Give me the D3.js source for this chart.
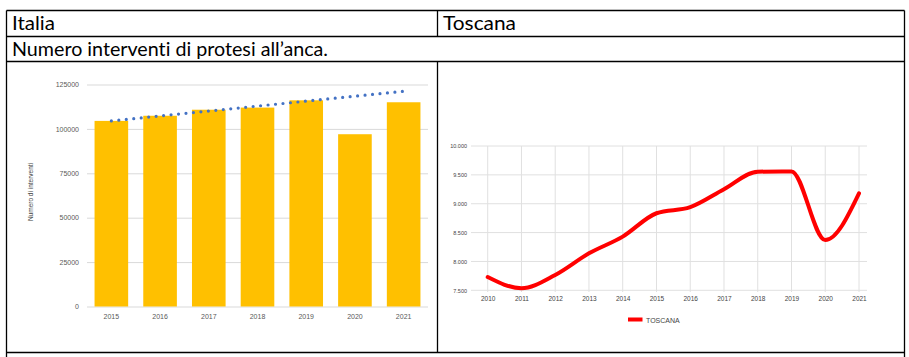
<!DOCTYPE html>
<html><head><meta charset="utf-8">
<script src="https://cdn.jsdelivr.net/npm/d3@7/dist/d3.min.js"></script>
<style>
html,body{margin:0;padding:0;background:#fff;}
svg{display:block;}
text{font-variant-ligatures:none;font-feature-settings:"liga" 0;}
</style></head>
<body>
<svg id="c" width="909" height="357"></svg>
<script>
// ---- data ----
const headerLeft = "Italia";
const headerRight = "Toscana";
const subtitle = "Numero interventi di protesi all\u2019anca.";

const italiaYears = ["2015","2016","2017","2018","2019","2020","2021"];
const italiaValues = [104500, 107400, 110800, 112000, 116100, 97000, 115000];
const italiaTicks = [0, 25000, 50000, 75000, 100000, 125000];
const italiaTrend = [104500, 121200]; // trend line at first and last year
const italiaYTitle = "Numero di interventi";

const toscanaYears = ["2010","2011","2012","2013","2014","2015","2016","2017","2018","2019","2020","2021"];
const toscanaValues = [7730, 7535, 7765, 8140, 8430, 8835, 8940, 9250, 9555, 9560, 8370, 9180];
const toscanaTicks = [7500, 8000, 8500, 9000, 9500, 10000];
const toscanaLegend = "TOSCANA";

const svg = d3.select("#c");

// ---- table frame ----
const T = {l:6.5, r:904.5, t:10.5, r1:36.5, r2:61.5, b:352.5, mid:437.5};
const frame = svg.append("g").attr("stroke","#000").attr("stroke-width",1.3).attr("fill","none");
frame.append("line").attr("x1",T.l).attr("x2",T.r).attr("y1",T.t).attr("y2",T.t);
frame.append("line").attr("x1",T.l).attr("x2",T.r).attr("y1",T.r1).attr("y2",T.r1);
frame.append("line").attr("x1",T.l).attr("x2",T.r).attr("y1",T.r2).attr("y2",T.r2);
frame.append("line").attr("x1",T.l).attr("x2",T.r).attr("y1",T.b).attr("y2",T.b);
frame.append("line").attr("x1",T.l).attr("x2",T.l).attr("y1",T.t).attr("y2",357);
frame.append("line").attr("x1",T.r).attr("x2",T.r).attr("y1",T.t).attr("y2",357);
frame.append("line").attr("x1",T.mid).attr("x2",T.mid).attr("y1",T.t).attr("y2",T.r1);
frame.append("line").attr("x1",T.mid).attr("x2",T.mid).attr("y1",T.r2).attr("y2",T.b);

const tf = "Lato, 'Open Sans', sans-serif";
function cellText(x, y, s, w) {
  const t = svg.append("text").attr("x",x).attr("y",y).attr("font-family",tf).attr("font-weight",400)
    .attr("font-size",19).attr("fill","#000").text(s);
  if (w) t.attr("textLength", w).attr("lengthAdjust","spacingAndGlyphs");
}
cellText(12, 30, headerLeft, 43);
cellText(443, 30, headerRight, 73);
cellText(12, 55.5, subtitle, 316);

// ---- left chart: Italia bars ----
{
  const g = svg.append("g");
  const x = d3.scaleBand().domain(italiaYears).range([87, 428]).paddingInner(0.31).paddingOuter(0.155);
  const y = d3.scaleLinear().domain([0,125000]).range([306.5, 84.5]);
  const lf = "'Liberation Sans', Arial, sans-serif";
  g.append("g").selectAll("line").data(italiaTicks).join("line")
    .attr("x1",87).attr("x2",428).attr("y1",d=>y(d)+0.5).attr("y2",d=>y(d)+0.5)
    .attr("stroke","#d9d9d9").attr("stroke-width",1);
  const ya = g.append("g").attr("transform","translate(87,0)")
    .call(d3.axisLeft(y).tickValues(italiaTicks).tickSize(0).tickPadding(8).tickFormat(d3.format("d")));
  ya.select(".domain").remove();
  ya.selectAll("text").attr("font-family",lf).attr("font-size",7).attr("fill","#595959");
  g.append("g").selectAll("rect").data(italiaValues).join("rect")
    .attr("x",(d,i)=>x(italiaYears[i])).attr("width",x.bandwidth())
    .attr("y",d=>y(d)).attr("height",d=>y(0)-y(d)).attr("fill","#FFC000");
  const xa = g.append("g").attr("transform","translate(0,307)")
    .call(d3.axisBottom(x).tickSize(0).tickPadding(7));
  xa.select(".domain").remove();
  xa.selectAll("text").attr("font-family",lf).attr("font-size",7).attr("fill","#595959");
  const x0 = x(italiaYears[0]) + x.bandwidth()/2;
  const x1 = x(italiaYears[italiaYears.length-1]) + x.bandwidth()/2;
  g.append("line").attr("x1",x0).attr("x2",x1).attr("y1",y(italiaTrend[0])).attr("y2",y(italiaTrend[1]))
    .attr("stroke","#4472C4").attr("stroke-width",3.2).attr("stroke-linecap","round")
    .attr("stroke-dasharray","0 7.5");
  g.append("text").attr("transform","translate(33,192) rotate(-90)").attr("text-anchor","middle")
    .attr("font-family",lf).attr("font-size",6.5).attr("fill","#404040").text(italiaYTitle);
}

// ---- right chart: Toscana line ----
{
  const g = svg.append("g");
  const af = "'Liberation Sans', Arial, sans-serif";
  const x = d3.scalePoint().domain(toscanaYears).range([487.7, 859]);
  const y = d3.scaleLinear().domain([7500,10000]).range([290.3, 146]);
  g.append("g").selectAll("line").data(toscanaTicks).join("line")
    .attr("x1",471).attr("x2",867).attr("y1",d=>y(d)).attr("y2",d=>y(d))
    .attr("stroke","#e0e0e0").attr("stroke-width",1);
  g.append("g").selectAll("line").data(toscanaYears).join("line")
    .attr("x1",d=>x(d)).attr("x2",d=>x(d)).attr("y1",146).attr("y2",292)
    .attr("stroke","#e0e0e0").attr("stroke-width",1);
  const fmt = d3.formatLocale({decimal:",",thousands:".",grouping:[3],currency:["€",""]}).format(",.0f");
  const ya = g.append("g").attr("transform","translate(467,0)")
    .call(d3.axisLeft(y).tickValues(toscanaTicks).tickSize(0).tickPadding(0).tickFormat(fmt));
  ya.select(".domain").remove();
  ya.selectAll("text").attr("font-family",af).attr("font-size",5.5).attr("fill","#444");
  const xa = g.append("g").attr("transform","translate(0,296)")
    .call(d3.axisBottom(x).tickSize(0).tickPadding(0));
  xa.select(".domain").remove();
  xa.selectAll("text").attr("font-family",af).attr("font-size",6.5).attr("fill","#444");
  const line = d3.line().x((d,i)=>x(toscanaYears[i])).y(d=>y(d)).curve(d3.curveMonotoneX);
  g.append("path").datum(toscanaValues).attr("d",line).attr("fill","none")
    .attr("stroke","#FF0000").attr("stroke-width",4).attr("stroke-linejoin","round").attr("stroke-linecap","round");
  g.append("rect").attr("x",628).attr("y",317.5).attr("width",14.5).attr("height",4).attr("fill","#FF0000");
  g.append("text").attr("x",646).attr("y",322.5).attr("font-family",af).attr("font-size",7).attr("fill","#444").text(toscanaLegend);
}
</script>
</body></html>
